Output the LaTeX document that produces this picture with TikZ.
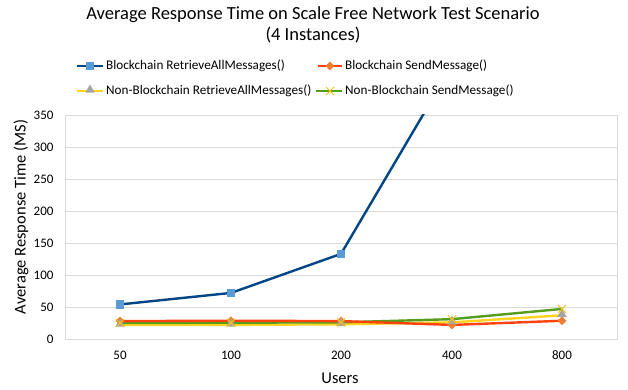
\documentclass[tikz,border=0pt]{standalone}
\usepackage{fontspec}
\setmainfont{Carlito}
\usetikzlibrary{shapes.geometric}
\definecolor{gridc}{HTML}{D9D9D9}
\definecolor{bline}{HTML}{004586}
\definecolor{bmark}{HTML}{5B9BD5}
\definecolor{oline}{HTML}{FF420E}
\definecolor{omark}{HTML}{ED7D31}
\definecolor{yline}{HTML}{FFD320}
\definecolor{gmark}{HTML}{A5A5A5}
\definecolor{gline}{HTML}{579D1C}
\definecolor{xmark}{HTML}{FFC000}
\definecolor{txt}{HTML}{000000}
\tikzset{
  ser/.style={line width=2.4pt, line join=round},
  sqm/.style={fill=bmark, draw=none, minimum size=8.5pt, inner sep=0pt, rectangle},
  dim/.style={fill=omark, draw=none, diamond, minimum size=9pt, inner sep=0pt},
  trm/.style={fill=gmark, draw=none, regular polygon, regular polygon sides=3, minimum size=11pt, inner sep=0pt},
  crm/.style={draw=xmark, line width=0.9pt},
  tick/.style={font=\fontsize{13}{15}\selectfont, text=txt},
  leg/.style={font=\fontsize{13.2}{16}\selectfont, anchor=west, inner sep=0pt},
  axt/.style={font=\fontsize{16.5}{19}\selectfont},
}
\begin{document}
\begin{tikzpicture}[x=1pt,y=-1pt]
\useasboundingbox (0,0) rectangle (628,390);
% title
\node[font=\fontsize{18.5}{21}\selectfont] (t1) at (313,15) {Average Response Time on Scale Free Network Test Scenario};
\node[font=\fontsize{18.5}{21}\selectfont] (t2) at (313,35) {(4 Instances)};
% gridlines
\foreach \v in {50,100,...,350} {
  \draw[gridc, line width=0.8pt] (65,{339-0.64*\v}) -- (617,{339-0.64*\v});
}
\draw[gridc, line width=0.8pt] (65,115) rectangle (617,339);
% y tick labels
\foreach \v in {0,50,...,350} {
  \node[tick, anchor=east] at (57,{339-0.64*\v}) {\v};
}
% x tick labels
\foreach \x/\l in {120/50,231/100,341/200,452/400,562/800} {
  \node[tick] at (\x,355) {\l};
}
\node[axt] (xl) at (340,378) {Users};
\node[axt, rotate=90] (yl) at (21,217) {Average Response Time (MS)};
% series
\begin{scope}
\clip (65,115) rectangle (617,339);
% yellow: non-blockchain retrieve
\draw[ser, yline] (120,{339-0.64*22}) -- (231,{339-0.64*22}) -- (341,{339-0.64*23}) -- (452,{339-0.64*26}) -- (562,{339-0.64*37});
% green: non-blockchain send
\draw[ser, gline] (120,{339-0.64*25}) -- (231,{339-0.64*25.5}) -- (341,{339-0.64*26}) -- (452,{339-0.64*31}) -- (562,{339-0.64*47});
% orange: blockchain send
\draw[ser, oline] (120,{339-0.64*28}) -- (231,{339-0.64*28.5}) -- (341,{339-0.64*28}) -- (452,{339-0.64*22}) -- (562,{339-0.64*28.5});
% blue: blockchain retrieve
\draw[ser, bline] (120,{339-0.64*54}) -- (231,{339-0.64*72}) -- (341,{339-0.64*133}) -- (452,{339-0.64*427});
\end{scope}
% markers
\foreach \x/\v in {120/54,231/72,341/133} {\node[sqm] at (\x,{339-0.64*\v}) {};}
\foreach \x/\v in {120/28,231/28.5,341/28,452/22,562/28.5} {\node[dim] at (\x,{339-0.64*\v}) {};}
\foreach \x/\v in {120/22,231/22,341/23,452/26,562/37} {\node[trm] at (\x,{339-0.64*\v-1}) {};}
\foreach \x/\v in {120/25,231/25.5,341/26,452/31,562/47} {
  \draw[crm] ({\x-4},{339-0.64*\v-4}) -- ({\x+4},{339-0.64*\v+4});
  \draw[crm] ({\x-4},{339-0.64*\v+4}) -- ({\x+4},{339-0.64*\v-4});
}
% legend
\coordinate (l1a) at (77,66); \coordinate (l1b) at (103,66);
\draw[ser, bline] (l1a) -- (l1b); \node[sqm] at (90,66) {};
\node[leg] (lt1) at (106,66) {Blockchain RetrieveAllMessages()};
\coordinate (l2a) at (318,66); \coordinate (l2b) at (342,66);
\draw[ser, oline] (l2a) -- (l2b); \node[dim] at (330,66) {};
\node[leg] (lt2) at (345,66) {Blockchain SendMessage()};
\coordinate (l3a) at (77,91); \coordinate (l3b) at (103,91);
\draw[ser, yline] (l3a) -- (l3b); \node[trm] at (90,90) {};
\node[leg] (lt3) at (106,91) {Non-Blockchain RetrieveAllMessages()};
\coordinate (l4a) at (316,91); \coordinate (l4b) at (342,91);
\draw[ser, gline] (l4a) -- (l4b);
\draw[crm] (326,87) -- (334,95); \draw[crm] (326,95) -- (334,87);
\node[leg] (lt4) at (345,91) {Non-Blockchain SendMessage()};
\end{tikzpicture}
\end{document}
